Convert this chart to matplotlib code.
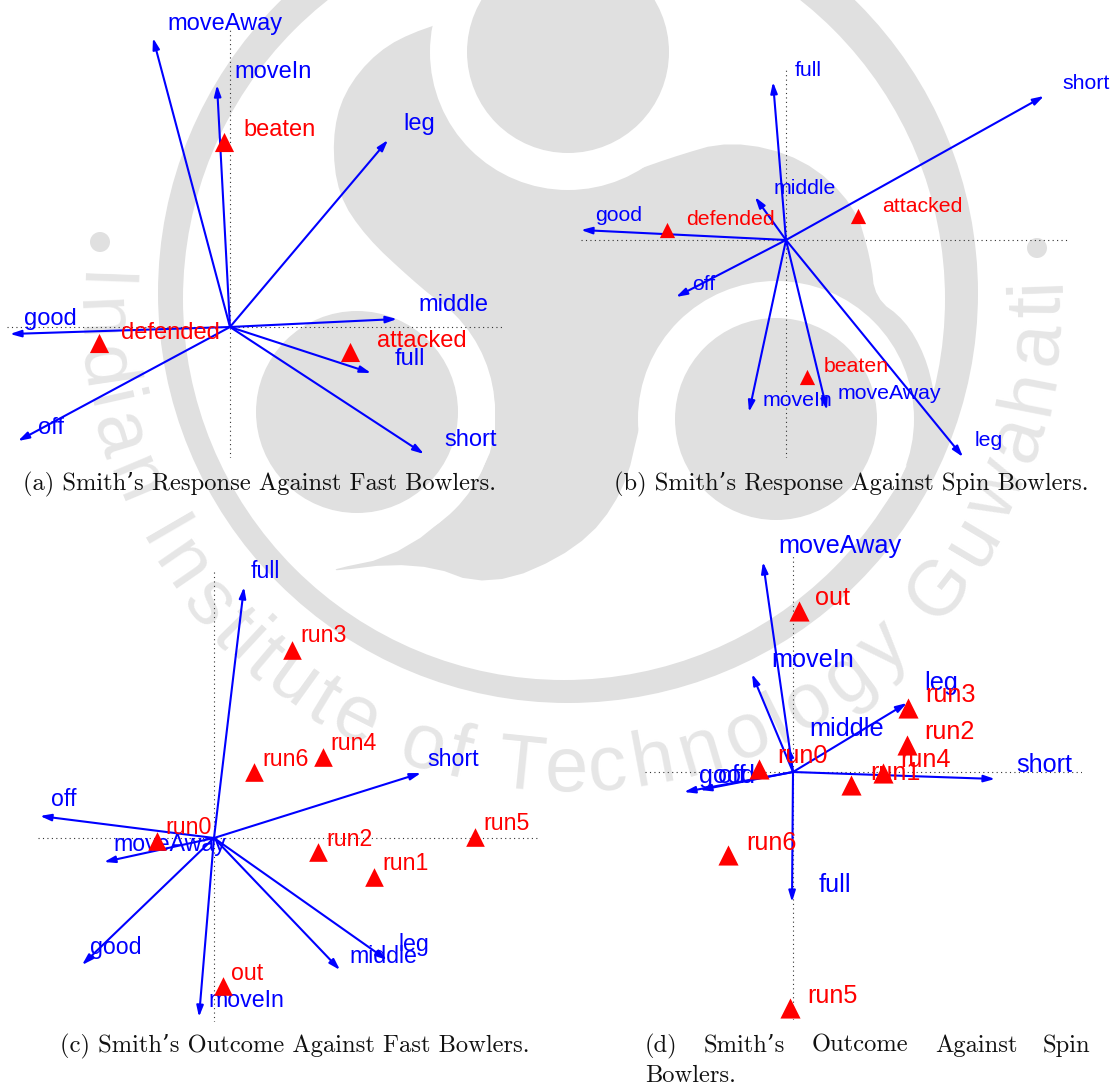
"""Four biplots of Smith's shots over the faded institute seal."""

import matplotlib
matplotlib.use("Agg")
import matplotlib.pyplot as plt
import numpy as np
from matplotlib.patches import Circle, Polygon
from matplotlib.textpath import TextPath
from matplotlib.font_manager import FontProperties

W, H = 1116, 1086
BLUE = "#0000ff"
RED = "#ff0000"
SEAL = "#e0e0e0"
SEAL_TEXT = "#e6e6e6"

# --- panel a ----------------------------------------------------------------
a_vars = ["moveAway", "moveIn", "leg", "middle", "full", "short", "off", "good"]
a_vx = [-77, -13, 158, 167, 141, 194, -212, -220]
a_vy = [289, 242, 187, 8, -46, -127, -114, -7]
a_vlx = [-63, 4, 173, 188, 165, 214, -192, -206]
a_vly = [305, 257, 205, 24, -30, -111, -99, 10]
a_obs = ["beaten", "defended", "attacked"]
a_ox = [-6, -131, 120]
a_oy = [185, -16, -25]
a_olx = [13, -109, 147]
a_oly = [199, -4, -12]

# --- panel b ----------------------------------------------------------------
b_vars = ["full", "short", "middle", "good", "off", "moveIn", "moveAway", "leg"]
b_vx = [-13, 258, -31, -205, -110, -37, 41, 177]
b_vy = [158, 144, 43, 10, -57, -172, -170, -217]
b_vlx = [9, 276, -12, -191, -94, -23, 52, 189]
b_vly = [171, 158, 53, 26, -43, -159, -152, -199]
b_obs = ["attacked", "defended", "beaten"]
b_ox = [72, -119, 21]
b_oy = [24, 10, -137]
b_olx = [96, -100, 38]
b_oly = [35, 22, -125]

# --- panel c ----------------------------------------------------------------
c_vars = ["full", "short", "off", "moveAway", "good", "moveIn", "middle", "leg"]
c_vx = [30, 207, -174, -110, -132, -15, 126, 173]
c_vy = [251, 65, 22, -24, -127, -179, -132, -122]
c_vlx = [37, 213, -163, -101, -124, -6, 135, 184]
c_vly = [269, 81, 41, -4, -107, -160, -116, -104]
c_obs = ["run3", "run6", "run4", "run0", "run2", "run5", "run1", "out"]
c_ox = [78, 40, 109, -57, 104, 261, 160, 9]
c_oy = [188, 66, 81, -3, -14, 1, -39, -148]
c_olx = [86, 48, 116, -49, 112, 269, 168, 17]
c_oly = [204, 81, 97, 13, 1, 17, -23, -133]

# --- panel d ----------------------------------------------------------------
d_vars = ["moveAway", "moveIn", "leg", "short", "good", "off", "full", "middle"]
d_vx = [-30, -41, 114, 202, -109, -93, -1, -5]
d_vy = [210, 98, 69, -7, -20, -18, -130, 26]
d_vlx = [-15, -22, 131, 223, -94, -75, 26, 16]
d_vly = [228, 114, 91, 9, -2, -2, -111, 45]
d_obs = ["out", "run3", "run2", "run0", "run4", "run1", "run6", "run5"]
d_ox = [6, 115, 114, -34, 90, 58, -65, -3]
d_oy = [161, 64, 27, 3, -1, -13, -83, -236]
d_olx = [22, 132, 131, -16, 107, 77, -47, 14]
d_oly = [176, 79, 42, 18, 14, 1, -69, -222]

# outline of the seal's three-armed body, picture pixels
BODY = [(422, 28), (377, 51), (343, 93), (332, 140), (338, 195), (366, 237), (411, 279),
        (445, 307), (495, 372), (495, 465), (411, 553), (310, 574), (417, 561), (490, 588),
        (579, 549), (624, 493), (641, 419), (664, 335), (700, 310), (776, 419), (905, 480),
        (938, 430), (935, 395), (925, 355), (905, 320), (875, 298), (871, 260), (855, 205),
        (804, 158), (731, 140), (669, 158), (607, 181), (568, 188), (700, 47), (635, 14),
        (495, 9)]


def smooth(points, rounds=2):
    """Corner cutting, so the traced outline does not look faceted."""
    pts = np.array(points, dtype=float)
    for _ in range(rounds):
        nxt = np.roll(pts, -1, axis=0)
        pts = np.column_stack([0.75 * pts + 0.25 * nxt, 0.25 * pts + 0.75 * nxt]).reshape(-1, 2)
    return pts


def advance(text, prop):
    # the bar keeps trailing spaces in the measured width
    bar = TextPath((0, 0), "|", prop=prop).get_extents().x1
    return TextPath((0, 0), text + "|", prop=prop).get_extents().x1 - bar


def draw_seal(ax):
    """The grey watermark, drawn back to front, in picture pixels."""
    ax.add_patch(Circle((568, 293), 410, fc=SEAL, ec="none"))
    ax.add_patch(Circle((564, 299), 381, fc="white", ec="none"))
    ax.add_patch(Polygon(smooth(BODY), closed=True, fc=SEAL, ec="none"))

    for cx, cy in [(357, 412), (776, 419), (568, 52)]:
        ax.add_patch(Circle((cx, cy), 138, fc="white", ec="none"))
        ax.add_patch(Circle((cx, cy), 101, fc=SEAL, ec="none"))

    # dots between the two inscriptions
    for cx, cy in [(100, 242), (1037, 248)]:
        ax.add_patch(Circle((cx, cy), 10, fc=SEAL, ec="none"))

    # inscription along the lower arc, letter by letter
    name = "Indian Institute of Technology Guwahati"
    size = 56
    radius = 491
    prop = FontProperties(family="Liberation Sans", size=size)
    ends = np.array([advance(name[: i + 1], prop) for i in range(len(name))])
    mids = (np.r_[0, ends[:-1]] + ends) / 2
    frac = (mids - mids[0]) / (mids[-1] - mids[0])
    phis = 178 + frac * (362 - 178)
    for ch, phi in zip(name, phis):
        if ch == " ":
            continue
        x = 568 + radius * np.cos(np.radians(phi))
        y = 300 - radius * np.sin(np.radians(phi))
        ax.text(x, y, ch, rotation=phi - 270, rotation_mode="anchor", ha="center", va="baseline",
                fontsize=size, color=SEAL_TEXT, family="Liberation Sans")


def draw_panel(extent, fontsize, msize, vars_, vx, vy, vlx, vly, obs, ox, oy, olx, oly):
    x0, x1, y0, y1 = extent
    origin_x, origin_y = ORIGINS[extent]
    left, top = origin_x + x0, origin_y - y1
    ax = fig.add_axes([left / W, 1 - (top + y1 - y0) / H, (x1 - x0) / W, (y1 - y0) / H])
    ax.set_xlim(x0, x1)
    ax.set_ylim(y0, y1)
    ax.axis("off")
    ax.patch.set_alpha(0)
    ax.axhline(0, color="#333333", lw=0.8, ls=(0, (1, 3)))
    ax.axvline(0, color="#333333", lw=0.8, ls=(0, (1, 3)))
    for name, tx, ty, lx, ly in zip(vars_, vx, vy, vlx, vly):
        ax.annotate("", xy=(tx, ty), xytext=(0, 0), annotation_clip=False,
                    arrowprops=dict(arrowstyle="-|>,head_length=0.65,head_width=0.2",
                                    color=BLUE, lw=1.5, shrinkA=0, shrinkB=0))
        ax.text(lx, ly - 2, name, color=BLUE, fontsize=fontsize, ha="left", va="center")
    ax.scatter(ox, oy, marker="^", s=msize, color=RED, clip_on=False, zorder=3, linewidths=0)
    for name, lx, ly in zip(obs, olx, oly):
        ax.text(lx, ly - 2, name, color=RED, fontsize=fontsize, ha="left", va="center", zorder=4)


EXT_A = (-223, 272, -131, 299)
EXT_B = (-205, 284, -218, 173)
EXT_C = (-176, 326, -184, 268)
EXT_D = (-148, 289, -248, 216)
ORIGINS = {EXT_A: (230, 327), EXT_B: (786, 240), EXT_C: (214, 838), EXT_D: (793, 772)}

plt.rcParams["font.family"] = ["Liberation Sans", "DejaVu Sans"]
fig = plt.figure(figsize=(W / 100, H / 100), dpi=100, facecolor="white")

bg = fig.add_axes([0, 0, 1, 1])
bg.set_xlim(0, W)
bg.set_ylim(H, 0)
bg.axis("off")
draw_seal(bg)

draw_panel(EXT_A, 17, 190, a_vars, a_vx, a_vy, a_vlx, a_vly, a_obs, a_ox, a_oy, a_olx, a_oly)
draw_panel(EXT_B, 15.3, 120, b_vars, b_vx, b_vy, b_vlx, b_vly, b_obs, b_ox, b_oy, b_olx, b_oly)
draw_panel(EXT_C, 16.7, 180, c_vars, c_vx, c_vy, c_vlx, c_vly, c_obs, c_ox, c_oy, c_olx, c_oly)
draw_panel(EXT_D, 18.2, 210, d_vars, d_vx, d_vy, d_vlx, d_vly, d_obs, d_ox, d_oy, d_olx, d_oly)

# captions, in the document's serif
CAP = dict(family=["cmr10", "DejaVu Serif"], fontsize=17.65, color="#111111", va="baseline")
bg.text(23, 490, "(a) Smith’s Response Against Fast Bowlers.", **CAP)
bg.text(614, 490, "(b) Smith’s Response Against Spin Bowlers.", **CAP)
bg.text(60, 1052, "(c) Smith’s Outcome Against Fast Bowlers.", **CAP)
for word, x in zip(["(d)", "Smith’s", "Outcome", "Against", "Spin"], [645, 704, 812, 935, 1043]):
    bg.text(x, 1052, word, **CAP)
bg.text(645, 1082, "Bowlers.", **CAP)

fig.savefig("out.png", dpi=100, facecolor="white")
